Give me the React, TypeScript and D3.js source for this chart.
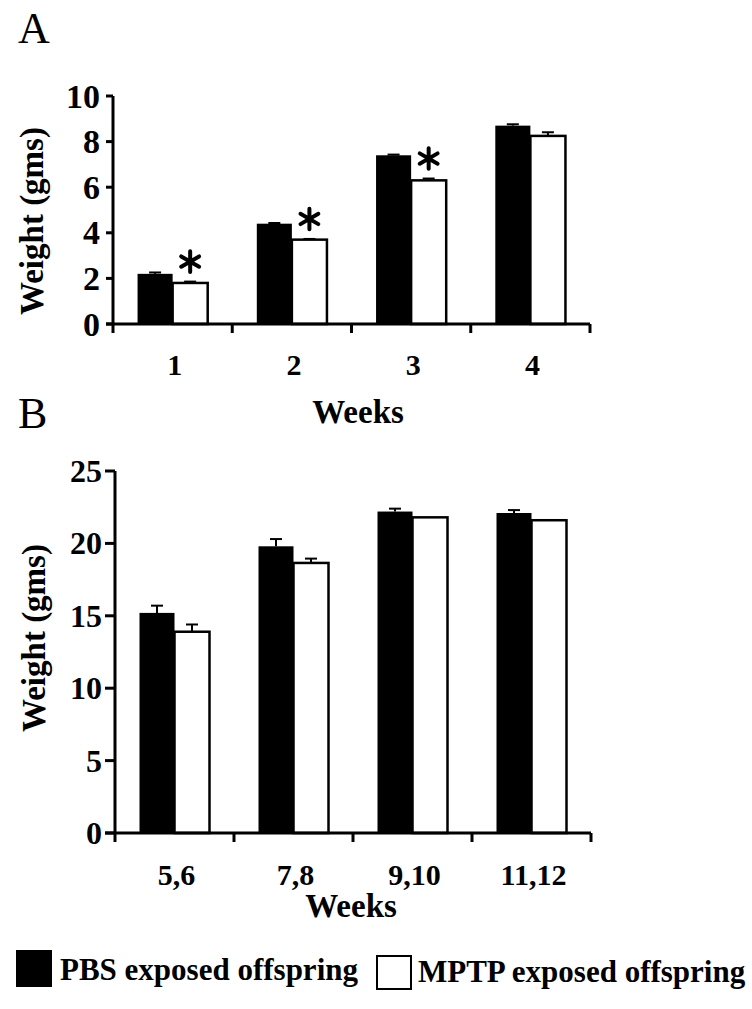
import * as d3 from "d3";

const weeksA = ["1", "2", "3", "4"];
const pbsA = [2.2, 4.4, 7.4, 8.7];
const mptpA = [1.8, 3.7, 6.3, 8.25];
const pbsErrA = [0.06, 0.03, 0.03, 0.06];
const mptpErrA = [0.06, 0.03, 0.08, 0.16];
const starsA = [true, true, true, false];
const ticksA = [0, 2, 4, 6, 8, 10];

const weeksB = ["5,6", "7,8", "9,10", "11,12"];
const pbsB = [15.2, 19.8, 22.2, 22.1];
const mptpB = [13.9, 18.65, 21.8, 21.6];
const pbsErrB = [0.5, 0.5, 0.2, 0.2];
const mptpErrB = [0.5, 0.3, 0, 0];
const ticksB = [0, 5, 10, 15, 20, 25];

const groups = ["pbs", "mptp"];
const font = "'Liberation Serif', 'Times New Roman', serif";

interface PanelProps {
    weeks: string[];
    pbs: number[];
    mptp: number[];
    pbsErr: number[];
    mptpErr: number[];
    stars?: boolean[];
    ticks: number[];
    left: number;
    right: number;
    top: number;
    bottom: number;
    tickSize: number;
    tickFont: number;
    labelY: number;
    weeksY: number;
    weeksX: number;
    titleX: number;
    titleY: number;
}

function Panel(p: PanelProps) {
    const x = d3.scaleBand().domain(p.weeks).range([p.left, p.right]).padding(0);
    const inner = d3.scaleBand().domain(groups).range([0, x.bandwidth()]).paddingInner(0).paddingOuter(0.7);
    const y = d3.scaleLinear().domain([0, p.ticks[p.ticks.length - 1]]).range([p.bottom, p.top]);
    const bw = inner.bandwidth();
    const star = d3.symbol(d3.symbolAsterisk, 300)()!;
    const bounds = [...p.weeks.map((w) => x(w)!), p.right];

    return (
        <g fontFamily={font} fontWeight="bold">
            {p.weeks.map((w, i) => {
                const x0 = x(w)!;
                const xb = x0 + inner("pbs")!;
                const xw = x0 + inner("mptp")!;
                return (
                    <g key={w}>
                        {p.pbsErr[i] > 0 && (
                            <g stroke="black" strokeWidth={2}>
                                <line x1={xb + bw / 2} x2={xb + bw / 2} y1={y(p.pbs[i])} y2={y(p.pbs[i] + p.pbsErr[i])} />
                                <line x1={xb + bw / 2 - 6} x2={xb + bw / 2 + 6} y1={y(p.pbs[i] + p.pbsErr[i])} y2={y(p.pbs[i] + p.pbsErr[i])} />
                            </g>
                        )}
                        {p.mptpErr[i] > 0 && (
                            <g stroke="black" strokeWidth={2}>
                                <line x1={xw + bw / 2} x2={xw + bw / 2} y1={y(p.mptp[i])} y2={y(p.mptp[i] + p.mptpErr[i])} />
                                <line x1={xw + bw / 2 - 6} x2={xw + bw / 2 + 6} y1={y(p.mptp[i] + p.mptpErr[i])} y2={y(p.mptp[i] + p.mptpErr[i])} />
                            </g>
                        )}
                        <rect x={xb} y={y(p.pbs[i])} width={bw} height={p.bottom - y(p.pbs[i])} fill="black" />
                        <rect x={xw} y={y(p.mptp[i])} width={bw} height={p.bottom - y(p.mptp[i])} fill="white" stroke="black" strokeWidth={2.5} />
                        {p.stars && p.stars[i] && (
                            <path d={star} transform={`translate(${xw + bw / 2},${y(p.mptp[i] + p.mptpErr[i]) - 20})`} stroke="black" strokeWidth={4} strokeLinecap="round" fill="none" />
                        )}
                        <text x={x0 + x.bandwidth() / 2 + 2} y={p.labelY} textAnchor="middle" fontSize={30}>{w}</text>
                    </g>
                );
            })}

            {/* axes */}
            <line x1={p.left} x2={p.left} y1={p.top} y2={p.bottom} stroke="black" strokeWidth={3} />
            <line x1={p.left - p.tickSize} x2={p.right} y1={p.bottom} y2={p.bottom} stroke="black" strokeWidth={3} />
            {p.ticks.map((t) => (
                <g key={t}>
                    <line x1={p.left - p.tickSize} x2={p.left} y1={y(t)} y2={y(t)} stroke="black" strokeWidth={3} />
                    <text x={p.left - 13} y={y(t)} textAnchor="end" dominantBaseline="central" fontSize={p.tickFont}>{t}</text>
                </g>
            ))}
            {bounds.map((b, i) => (
                <line key={i} x1={b} x2={b} y1={p.bottom} y2={p.bottom + 9} stroke="black" strokeWidth={3} />
            ))}

            <text x={p.weeksX} y={p.weeksY} textAnchor="middle" fontSize={33}>Weeks</text>
            <text transform={`translate(${p.titleX},${p.titleY}) rotate(-90)`} textAnchor="middle" dominantBaseline="central" fontSize={33}>Weight (gms)</text>
        </g>
    );
}

export default function App() {
    return (
        <svg width={752} height={1009} style={{ position: "absolute", left: 0, top: 0, background: "#ffffff" }}>
            <text x={18} y={43} fontFamily={font} fontSize={44}>A</text>
            <text x={18} y={428} fontFamily={font} fontSize={44}>B</text>

            <Panel weeks={weeksA} pbs={pbsA} mptp={mptpA} pbsErr={pbsErrA} mptpErr={mptpErrA} stars={starsA} ticks={ticksA}
                left={113} right={590} top={96} bottom={324} tickSize={7} tickFont={34}
                labelY={375} weeksY={423} weeksX={358} titleX={32} titleY={221} />

            <Panel weeks={weeksB} pbs={pbsB} mptp={mptpB} pbsErr={pbsErrB} mptpErr={mptpErrB} ticks={ticksB}
                left={115} right={591} top={471} bottom={833} tickSize={10} tickFont={32}
                labelY={885} weeksY={917} weeksX={351} titleX={34} titleY={638} />

            {/* legend */}
            <g fontFamily={font} fontWeight="bold" fontSize={31}>
                <rect x={16} y={950} width={36} height={37} fill="black" />
                <text x={60} y={980}>PBS exposed offspring</text>
                <rect x={377} y={956} width={34} height={33} fill="white" stroke="black" strokeWidth={2} />
                <text x={418} y={982}>MPTP exposed offspring</text>
            </g>
        </svg>
    );
}
